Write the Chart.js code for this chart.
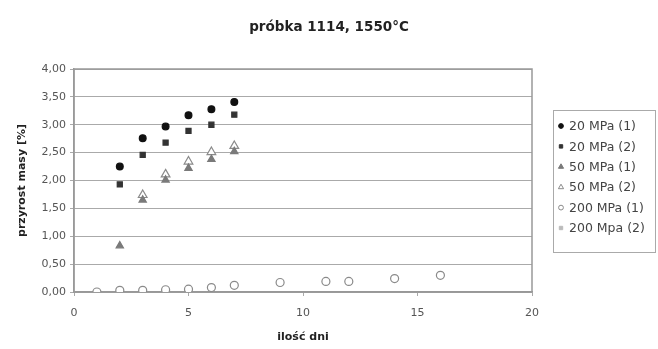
<!DOCTYPE html>
<html>
<head>
<meta charset="utf-8">
<script src="https://cdn.jsdelivr.net/npm/chart.js@4/dist/chart.umd.min.js"></script>
<style>
  body { margin: 0; background: #fff; }
  #wrap { width: 658px; height: 349px; }
</style>
</head>
<body>
<div id="wrap"><canvas id="myChart" width="658" height="349"></canvas></div>
<script>
const chartTitle = "próbka 1114, 1550°C";
const xTitle = "ilość dni";
const yTitle = "przyrost masy [%]";
const seriesLabels = ["20 MPa (1)", "20 MPa (2)", "50 MPa (1)", "50 MPa (2)", "200 MPa (1)", "200 Mpa (2)"];

const days20a = [2, 3, 4, 5, 6, 7];
const mass20a = [2.25, 2.76, 2.97, 3.17, 3.28, 3.41];
const days20b = [2, 3, 4, 5, 6, 7];
const mass20b = [1.93, 2.46, 2.68, 2.89, 3.0, 3.18];
const days50a = [2, 3, 4, 5, 6, 7];
const mass50a = [0.83, 1.65, 2.01, 2.22, 2.38, 2.52];
const days50b = [3, 4, 5, 6, 7];
const mass50b = [1.74, 2.11, 2.34, 2.51, 2.62];
const days200a = [1, 2, 3, 4, 5, 6, 7, 9, 11, 12, 14, 16];
const mass200a = [0.0, 0.03, 0.03, 0.04, 0.05, 0.08, 0.12, 0.17, 0.19, 0.19, 0.24, 0.3];
const days200b = [2, 3, 4, 5, 6, 7, 16];
const mass200b = [0.04, 0.04, 0.05, 0.08, 0.09, 0.13, 0.31];

const xTicks = [0, 5, 10, 15, 20];

function pts(xs, ys) {
  return xs.map((x, i) => ({ x: x, y: ys[i] }));
}

const styles = [
  { pointStyle: "circle", backgroundColor: "#111", borderColor: "#111", pointRadius: 3.4 },
  { pointStyle: "rect", backgroundColor: "#333", borderColor: "#333", pointRadius: 3.6 },
  { pointStyle: "triangle", backgroundColor: "#7a7a7a", borderColor: "#7a7a7a", pointRadius: 4.2 },
  { pointStyle: "triangle", backgroundColor: "#fff", borderColor: "#8a8a8a", pointRadius: 5 },
  { pointStyle: "circle", backgroundColor: "#fff", borderColor: "#8a8a8a", pointRadius: 4 },
  { pointStyle: "rect", backgroundColor: "#bbb", borderColor: "#bbb", pointRadius: 2.8 },
];

const allData = [
  pts(days20a, mass20a),
  pts(days20b, mass20b),
  pts(days50a, mass50a),
  pts(days50b, mass50b),
  pts(days200a, mass200a),
  pts(days200b, mass200b),
];

// frame around plot, page title and boxed legend on the right
const extras = {
  id: "extras",
  beforeDatasetsDraw: (chart) => {
    const a = chart.chartArea;
    const ctx = chart.ctx;
    ctx.save();
    ctx.strokeStyle = "#999";
    ctx.lineWidth = 1.5;
    ctx.strokeRect(a.left, a.top, a.right - a.left, a.bottom - a.top);
    ctx.restore();
  },
  afterDraw: (chart) => {
    const ctx = chart.ctx;
    ctx.save();
    ctx.fillStyle = "#222";
    ctx.font = "bold 13.5px 'DejaVu Sans'";
    ctx.textAlign = "center";
    ctx.textBaseline = "middle";
    ctx.fillText(chartTitle, chart.width / 2, 27);
    ctx.strokeStyle = "#aaa";
    ctx.lineWidth = 1;
    ctx.strokeRect(553.5, 110.5, 102, 142);
    ctx.restore();

    chart.data.datasets.forEach((ds, i) => {
      const y = 126 + i * 20.4;
      ctx.save();
      ctx.fillStyle = ds.backgroundColor;
      ctx.strokeStyle = ds.borderColor;
      ctx.lineWidth = 1;
      Chart.helpers.drawPoint(ctx, {
        pointStyle: ds.pointStyle,
        radius: ds.pointStyle === "triangle" ? 3 : 2.4,
        rotation: 0,
        borderWidth: 1,
      }, 561, y);
      ctx.fillStyle = "#444";
      ctx.font = "12.5px 'DejaVu Sans'";
      ctx.textAlign = "left";
      ctx.textBaseline = "middle";
      ctx.fillText(ds.label, 569, y + 1);
      ctx.restore();
    });
  },
};

const ctx = document.getElementById("myChart").getContext("2d");
const myChart = new Chart(ctx, {
  type: "scatter",
  data: {
    datasets: seriesLabels.map((label, i) => ({
      label: label,
      data: allData[i],
      pointStyle: styles[i].pointStyle,
      backgroundColor: styles[i].backgroundColor,
      borderColor: styles[i].borderColor,
      borderWidth: 1.2,
      pointRadius: styles[i].pointRadius,
    })),
  },
  options: {
    responsive: false,
    animation: false,
    layout: { padding: { left: 16, right: 126, top: 69, bottom: 3 } },
    scales: {
      x: {
        type: "linear",
        min: 0,
        max: 20,
        afterBuildTicks: (axis) => {
          axis.ticks = xTicks.map((v) => ({ value: v }));
        },
        afterFit: (axis) => {
          axis.height = 54;
        },
        grid: { drawOnChartArea: false, tickLength: 4, color: "#aaa" },
        border: { color: "#999", width: 1.5 },
        ticks: { color: "#555", font: { family: "DejaVu Sans", size: 11 }, padding: 11 },
        title: {
          display: true,
          text: xTitle,
          color: "#222",
          font: { family: "DejaVu Sans", size: 11, weight: "bold" },
          padding: { top: 0, bottom: 2 },
        },
      },
      y: {
        min: 0,
        max: 4,
        afterFit: (axis) => {
          axis.width = 58;
        },
        ticks: {
          stepSize: 0.5,
          color: "#555",
          font: { family: "DejaVu Sans", size: 11 },
          padding: 4,
          callback: (v) => v.toFixed(2).replace(".", ","),
        },
        grid: { color: "#aaa", tickLength: 4 },
        border: { color: "#999", width: 1.5 },
        title: {
          display: true,
          text: yTitle,
          color: "#222",
          font: { family: "DejaVu Sans", size: 11, weight: "bold" },
          padding: { top: 0, bottom: 0 },
        },
      },
    },
    plugins: {
      title: { display: false },
      legend: { display: false },
      tooltip: { enabled: false },
    },
  },
  plugins: [extras],
});
</script>
</body>
</html>
